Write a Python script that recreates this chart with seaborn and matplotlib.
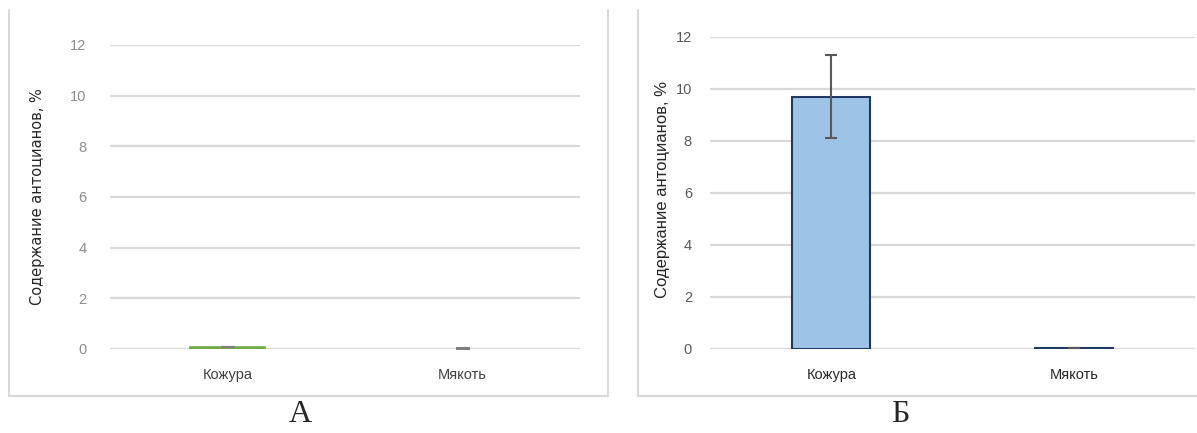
import numpy as np
import pandas as pd
import matplotlib.pyplot as plt
import seaborn as sns
from matplotlib.lines import Line2D

# --- datos ---
categorias = ["Кожура", "Мякоть"]
valores_a = [0.07, 0.0]
errores_a = [0.01, 0.03]
valores_b = [9.7, 0.05]
errores_b = [1.6, 0.0]
y_ticks = [0, 2, 4, 6, 8, 10, 12]
ylabel = "Содержание антоцианов, %"
letras = ["А", "Б"]

sns.set_style("white")
plt.rcParams['font.family'] = ['Liberation Sans Narrow', 'Liberation Sans', 'DejaVu Sans']

fig = plt.figure(figsize=(11.97, 4.33), dpi=100)
W, H = 1197, 433

def fx(px):
    return px / W

def fy(py):
    return 1 - py / H

# marcos de los paneles (estilo Excel)
marco = "#d9d9d9"
for (x0, x1, borde_der) in [(9, 608, True), (638, 1197, False)]:
    fig.add_artist(Line2D([fx(x0), fx(x0)], [fy(10), fy(396)], color=marco, lw=1.5))
    fig.add_artist(Line2D([fx(x0), fx(x1)], [fy(396), fy(396)], color=marco, lw=1.5))
    if borde_der:
        fig.add_artist(Line2D([fx(x1), fx(x1)], [fy(10), fy(396)], color=marco, lw=1.5))

ax_a = fig.add_axes([fx(110), fy(349), fx(580) - fx(110), fy(45) - fy(349)])
ax_b = fig.add_axes([fx(710), fy(349), fx(1195) - fx(710), fy(37) - fy(349)])

df_a = pd.DataFrame({"parte": categorias, "valor": valores_a})
df_b = pd.DataFrame({"parte": categorias, "valor": valores_b})

sns.barplot(data=df_a, x="parte", y="valor", ax=ax_a, color="#70ad47",
            edgecolor="#70ad47", linewidth=1.2, width=0.32, errorbar=None,
            saturation=1, zorder=3)
# la barra de pulpa es nula: sin borde
ax_a.patches[1].set_linewidth(0)
ax_a.errorbar(range(len(categorias)), valores_a, yerr=errores_a, fmt="none",
              ecolor="#7f7f7f", elinewidth=1.0, capsize=5, capthick=1.5, zorder=4)

sns.barplot(data=df_b, x="parte", y="valor", ax=ax_b, color="#9dc3e6",
            edgecolor="#1f3864", linewidth=1.5, width=0.32, errorbar=None,
            saturation=1, zorder=3)
ax_b.errorbar(range(len(categorias)), valores_b, yerr=errores_b, fmt="none",
              ecolor="#595959", elinewidth=1.5, capsize=4, capthick=1.5, zorder=4)

for ax, tick_col, cat_col, pad, lab_x, lab_y, lab_fs in [
        (ax_a, "#8c8c8c", "#404040", 17, -0.138, 0.50, 10.5),
        (ax_b, "#595959", "#262626", 13, -0.083, 0.51, 12)]:
    ax.set_ylim(0, 12)
    ax.set_xlim(-0.5, 1.5)
    ax.set_yticks(y_ticks)
    ax.yaxis.grid(True, color="#d9d9d9", lw=1.6, zorder=0)
    ax.set_axisbelow(True)
    for s in ax.spines.values():
        s.set_visible(False)
    ax.tick_params(axis="y", length=0, pad=pad, labelsize=10.5, labelcolor=tick_col)
    ax.tick_params(axis="x", length=0, pad=14, labelsize=10.5, labelcolor=cat_col)
    ax.set_xlabel("")
    ax.set_ylabel(ylabel, fontsize=lab_fs, color="#262626",
                  family=['DejaVu Sans'] if ax is ax_a else ['Liberation Sans', 'DejaVu Sans'])
    ax.yaxis.set_label_coords(lab_x, lab_y)
    ax.patch.set_alpha(0)

fig.text(fx(300), fy(415), letras[0], fontsize=23, ha="center", va="center",
         family=['Liberation Serif', 'DejaVu Serif'])
fig.text(fx(900), fy(415), letras[1], fontsize=23, ha="center", va="center",
         family=['Liberation Serif', 'DejaVu Serif'])

fig.savefig("out.png", dpi=100)
